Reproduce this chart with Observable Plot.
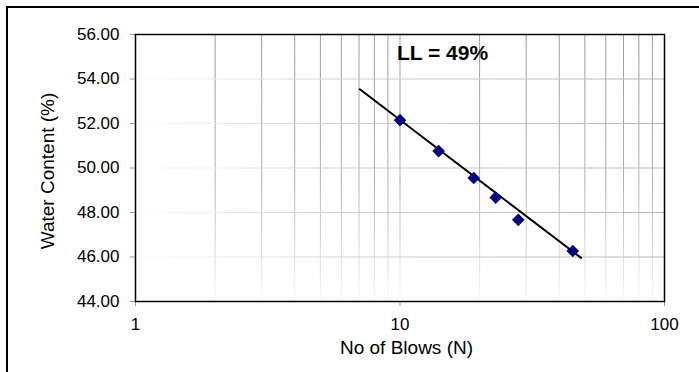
<!DOCTYPE html>
<html><head><meta charset="utf-8">
<script src="https://cdn.jsdelivr.net/npm/d3@7"></script>
<script src="https://cdn.jsdelivr.net/npm/@observablehq/plot@0.6"></script>
<style>
html,body{margin:0;padding:0;background:#fff;overflow:hidden}
#wrap{position:relative;width:699px;height:372px;overflow:hidden;background:#fff}
#border{position:absolute;left:6px;top:6px;width:760px;height:420px;border:2px solid #000;box-sizing:border-box;pointer-events:none}
</style></head><body><div id="wrap"><div id="chart"></div><div id="border"></div></div>
<script>
// Data
const blows = [10, 14, 19, 23, 28, 45];
const waterContent = [52.15, 50.76, 49.55, 48.67, 47.67, 46.27];
const trendBlows = [7.05, 48.4];
const trendWater = [53.54, 45.96];
const xTicks = [1, 10, 100];
const yTicks = [44, 46, 48, 50, 52, 54, 56];
const xGrid = [2, 3, 4, 5, 6, 7, 8, 9, 10, 20, 30, 40, 50, 60, 70, 80, 90];
const yGrid = [46, 48, 50, 52, 54];
const llText = "LL = 49%";
const xTitle = "No of Blows (N)";
const yTitle = "Water Content (%)";

const points = blows.map((n, i) => ({n, w: waterContent[i]}));
const trend = trendBlows.map((n, i) => ({n, w: trendWater[i]}));

const font = "'Liberation Sans', Arial, Helvetica, sans-serif";
const plot = Plot.plot({
  width: 699, height: 372,
  marginLeft: 135, marginRight: 35, marginTop: 34, marginBottom: 71,
  style: {fontFamily: font, fontSize: "17px", color: "#000", background: "transparent", overflow: "visible"},
  x: {type: "log", domain: [1, 100]},
  y: {domain: [44, 56]},
  marks: [
    Plot.ruleX(xGrid, {x: d => d, stroke: "url(#vfade)", strokeWidth: 1}),
    Plot.ruleY(yGrid, {y: d => d, stroke: "url(#hfade)", strokeWidth: 1.2}),
    Plot.axisX(xTicks, {tickSize: 5, tickPadding: 11, tickFormat: d => String(d), stroke: "#999", fontSize: 17, label: null}),
    Plot.axisY(yTicks, {tickSize: 5, tickPadding: 11, tickFormat: d3.format(".2f"), stroke: "#999", fontSize: 17, label: null}),
    Plot.frame({stroke: "#000", strokeWidth: 1.5}),
    Plot.line(trend, {x: "n", y: "w", stroke: "#000", strokeWidth: 2}),
    Plot.dot(points, {x: "n", y: "w", symbol: "diamond2", r: 5.7, fill: "#000080", stroke: "none"}),
    Plot.text([llText], {text: d => d, frameAnchor: "top", lineAnchor: "middle", dx: 42.5, dy: 18.5, fontWeight: "bold", fontSize: 21}),
    Plot.text([yTitle], {text: d => d, frameAnchor: "left", lineAnchor: "middle", textAnchor: "middle", dx: -88, dy: 3, rotate: -90, fontSize: 19}),
    Plot.text([xTitle], {text: d => d, frameAnchor: "bottom", lineAnchor: "middle", dx: 6.5, dy: 46, fontSize: 19})
  ]
});

const svg = d3.select(plot);
const defs = svg.insert("defs", ":first-child");
const vg = defs.append("linearGradient").attr("id", "vfade").attr("gradientUnits", "userSpaceOnUse")
  .attr("x1", 0).attr("x2", 0).attr("y1", 34).attr("y2", 301);
vg.append("stop").attr("offset", 0).attr("stop-color", "#9a9a9a");
vg.append("stop").attr("offset", 0.55).attr("stop-color", "#b0b0b0");
vg.append("stop").attr("offset", 1).attr("stop-color", "#f6f6f6");
const hg = defs.append("linearGradient").attr("id", "hfade").attr("gradientUnits", "userSpaceOnUse")
  .attr("x1", 135).attr("x2", 664).attr("y1", 0).attr("y2", 0);
hg.append("stop").attr("offset", 0).attr("stop-color", "#fdfdfd");
hg.append("stop").attr("offset", 0.4).attr("stop-color", "#d0d0d0");
hg.append("stop").attr("offset", 1).attr("stop-color", "#b8b8b8");

document.getElementById("chart").appendChild(plot);
</script>
</body></html>
